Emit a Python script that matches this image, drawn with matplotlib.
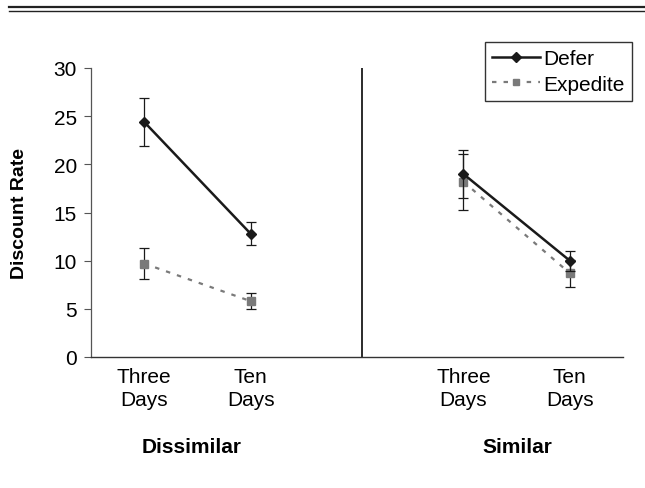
import numpy as np
import matplotlib.pyplot as plt
from matplotlib.lines import Line2D

plt.rcParams['font.family'] = ['Liberation Sans', 'DejaVu Sans']

# categories: 5 slots, middle one left empty (Excel style)
pos = [0, 1, 3, 4]
tick_labels = ["Three\nDays", "Ten\nDays", "Three\nDays", "Ten\nDays"]
groups = ["Dissimilar", "Similar"]

defer = [24.4, 12.8, 19.0, 10.0]
defer_err = [2.5, 1.2, 2.5, 1.05]
expedite = [9.7, 5.8, 18.2, 8.7]
expedite_err = [1.6, 0.8, 2.9, 1.4]

fig = plt.figure(figsize=(6.45, 4.89), dpi=100)
ax = fig.add_axes([91/645, 1-358/489, (623-91)/645, (358-69)/489])

dark = '#1a1a1a'
gray = '#7a7a7a'
fs = 15

for i in (0, 2):
    sl = slice(i, i+2)
    x = pos[sl]
    ax.errorbar(x, expedite[sl], yerr=expedite_err[sl], color=gray, lw=1.6,
                ls=(0, (2, 3.2)), marker='s', ms=6, mfc=gray, mec=gray,
                ecolor=dark, elinewidth=0.9, capsize=3.5, capthick=0.9, zorder=2)
    ax.errorbar(x, defer[sl], yerr=defer_err[sl], color=dark, lw=1.8,
                marker='D', ms=5, mfc=dark, mec=dark,
                ecolor=dark, elinewidth=0.9, capsize=3.5, capthick=0.9, zorder=3)

ax.axvline(2.05, color=dark, lw=1.3)

ax.set_xlim(-0.5, 4.5)
ax.set_ylim(0, 30)
ax.set_yticks([0, 5, 10, 15, 20, 25, 30])
ax.tick_params(axis='y', labelsize=fs, length=5, width=0.8, color='#555555', pad=5)
ax.set_xticks(pos)
ax.set_xticklabels(tick_labels, fontsize=fs, linespacing=1.3)
ax.tick_params(axis='x', length=0, pad=7)
for s in ('top', 'right'):
    ax.spines[s].set_visible(False)
ax.spines['left'].set_color('#555555')
ax.spines['left'].set_linewidth(0.9)
ax.spines['bottom'].set_color('#333333')
ax.spines['bottom'].set_linewidth(1.0)

ax.set_ylabel("Discount Rate", fontsize=14, fontweight='bold')
ax.yaxis.set_label_coords(-63/532, 0.5)

fig.text(192/645, 1-448/489, groups[0], fontsize=fs, fontweight='bold', ha='center', va='center')
fig.text(517/645, 1-448/489, groups[1], fontsize=fs, fontweight='bold', ha='center', va='center')

handles = [
    Line2D([], [], color=dark, lw=1.8, marker='D', ms=5),
    Line2D([], [], color=gray, lw=1.6, ls=(0, (2, 3.2)), marker='s', ms=5),
]
leg = ax.legend(handles, ["Defer", "Expedite"], loc='upper right',
                bbox_to_anchor=(632/645, 1-43/489), bbox_transform=fig.transFigure,
                borderaxespad=0, fancybox=False, framealpha=1, fontsize=fs,
                handlelength=2.3, handletextpad=0.15, borderpad=0.35, labelspacing=0.3)
leg.get_frame().set_edgecolor('#333333')
leg.get_frame().set_linewidth(1.0)

# double rule at top of page
fig.add_artist(Line2D([9/645, 1], [1-7.5/489]*2, color='#222222', lw=1.6))
fig.add_artist(Line2D([9/645, 1], [1-11.5/489]*2, color='#222222', lw=1.0))

fig.savefig("out.png", dpi=100)
